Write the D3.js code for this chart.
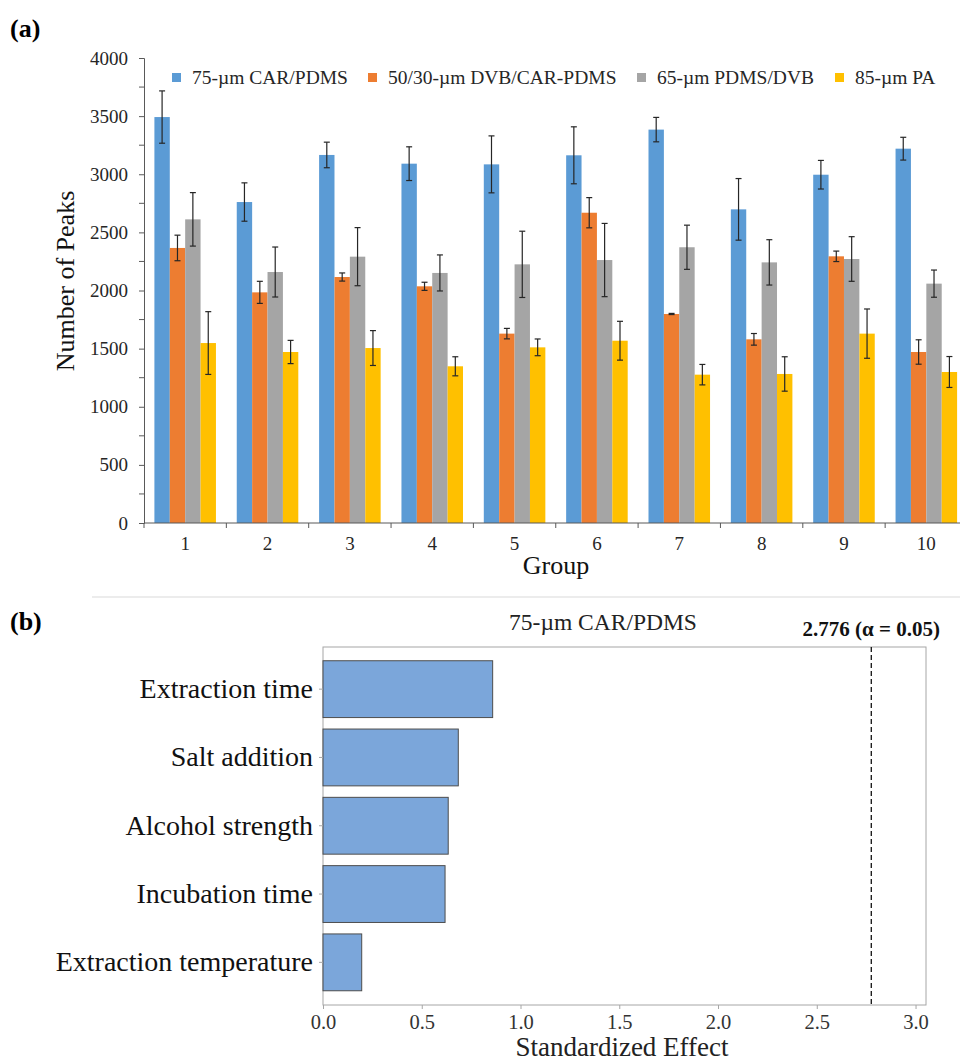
<!DOCTYPE html>
<html><head><meta charset="utf-8">
<script src="https://cdn.jsdelivr.net/npm/d3@7"></script>
<style>body{margin:0;background:#fff}svg{display:block}text{font-family:"Liberation Serif","Times New Roman",serif}</style>
</head><body>
<svg id="c" width="960" height="1064"></svg>
<script>
// ---- Panel (a) data ----
const groups = ["1","2","3","4","5","6","7","8","9","10"];
const seriesNames = ["75-µm CAR/PDMS","50/30-µm DVB/CAR-PDMS","65-µm PDMS/DVB","85-µm PA"];
const seriesColors = ["#5B9BD5","#ED7D31","#A5A5A5","#FFC000"];
const carPdms    = [3492,2761,3166,3091,3085,3163,3384,2698,2996,3220];
const carPdmsErr = [225,165,110,145,245,245,105,265,123,98];
const dvbCar     = [2366,1984,2116,2036,1629,2669,1798,1580,2294,1471];
const dvbCarErr  = [110,95,35,35,45,130,5,50,45,105];
const pdmsDvb    = [2612,2159,2291,2151,2225,2262,2372,2242,2271,2059];
const pdmsDvbErr = [230,215,250,155,285,315,190,195,192,117];
const pa         = [1548,1471,1505,1348,1511,1568,1276,1282,1629,1299];
const paErr      = [270,100,150,82,72,167,88,148,212,133];
const yTicksA = [0,500,1000,1500,2000,2500,3000,3500,4000];

// ---- Panel (b) data ----
const factors = ["Extraction time","Salt addition","Alcohol strength","Incubation time","Extraction temperature"];
const effects = [0.859,0.685,0.634,0.618,0.196];
const xTicksB = [0,0.5,1,1.5,2,2.5,3];
const critical = 2.776;

const svg = d3.select("#c");

// ================= Panel (a) =================
const values = [carPdms, dvbCar, pdmsDvb, pa];
const errs = [carPdmsErr, dvbCarErr, pdmsDvbErr, paErr];
const axA = "#595959";
const x0 = d3.scaleBand().domain(groups).range([144, 967.5]).paddingInner(0).paddingOuter(0);
const x1 = d3.scaleBand().domain(d3.range(4)).range([0, x0.bandwidth()]).paddingOuter(0.676).paddingInner(0);
const yA = d3.scaleLinear().domain([0,4000]).range([523,58]);

svg.append("text").attr("x",10).attr("y",37).attr("font-size",26).attr("font-weight","bold").text("(a)");

// minor ticks
const gA = svg.append("g");
gA.selectAll("line.minor").data(d3.range(250,4000,500)).join("line")
  .attr("x1",139).attr("x2",144).attr("y1",d=>yA(d)).attr("y2",d=>yA(d)).attr("stroke",axA).attr("stroke-width",1);

const yAxisA = svg.append("g").attr("transform","translate(144,0)")
  .call(d3.axisLeft(yA).tickValues(yTicksA).tickSize(5).tickPadding(11).tickFormat(d3.format("d")));
yAxisA.select(".domain").attr("stroke",axA);
yAxisA.selectAll(".tick line").attr("stroke",axA);
yAxisA.selectAll(".tick text").attr("font-size",19).attr("fill","#262626").attr("font-family","Liberation Serif");

// bars
groups.forEach((g,gi)=>{
  const gg = svg.append("g").attr("transform",`translate(${x0(g)},0)`);
  for(let s=0;s<4;s++){
    const v = values[s][gi];
    gg.append("rect").attr("x",x1(s)).attr("y",yA(v)).attr("width",x1.bandwidth()).attr("height",yA(0)-yA(v)).attr("fill",seriesColors[s]);
  }
  for(let s=0;s<4;s++){
    const v = values[s][gi], e = errs[s][gi];
    const cx = x1(s)+x1.bandwidth()/2;
    const ec = "#262626";
    gg.append("line").attr("x1",cx).attr("x2",cx).attr("y1",yA(v+e)).attr("y2",yA(v-e)).attr("stroke",ec).attr("stroke-width",1.2);
    [v+e,v-e].forEach(t=>gg.append("line").attr("x1",cx-3).attr("x2",cx+3).attr("y1",yA(t)).attr("y2",yA(t)).attr("stroke",ec).attr("stroke-width",1.2));
  }
});

// x axis (a)
const xAxisA = svg.append("g").attr("transform","translate(0,523)");
xAxisA.append("line").attr("x1",144).attr("x2",967.5).attr("stroke",axA);
xAxisA.selectAll("line.t").data(d3.range(0,11)).join("line").attr("class","t")
  .attr("x1",d=>144+d*x0.step()).attr("x2",d=>144+d*x0.step()).attr("y1",0).attr("y2",5).attr("stroke",axA);
xAxisA.selectAll("text.lab").data(groups).join("text").attr("class","lab")
  .attr("x",d=>x0(d)+x0.bandwidth()/2).attr("y",27).attr("text-anchor","middle").attr("font-size",19).attr("fill","#262626").text(d=>d);

svg.append("text").attr("x",556).attr("y",574).attr("text-anchor","middle").attr("font-size",26).attr("fill","#111").text("Group");
svg.append("text").attr("transform","translate(74,281) rotate(-90)").attr("text-anchor","middle").attr("font-size",26).attr("fill","#111").text("Number of Peaks");

// legend
const legX = [172,368,637,835];
seriesNames.forEach((n,i)=>{
  svg.append("rect").attr("x",legX[i]).attr("y",73).attr("width",9).attr("height",9).attr("fill",seriesColors[i]);
  svg.append("text").attr("x",legX[i]+20).attr("y",84).attr("font-size",19.5).attr("fill","#262626").text(n);
});

// separator
svg.append("line").attr("x1",92).attr("x2",960).attr("y1",597).attr("y2",597).attr("stroke","#e6e6e6").attr("stroke-width",1.5);

// ================= Panel (b) =================
svg.append("text").attr("x",10).attr("y",630).attr("font-size",26).attr("font-weight","bold").text("(b)");

const pLeft=323, pRight=926, pTop=647, pBottom=1005;
const xB = d3.scaleLinear().domain([0,3.053]).range([pLeft,pRight]);
const yB = d3.scaleBand().domain(factors).range([655,996.5]).paddingInner(0.168).paddingOuter(0.084);

svg.append("rect").attr("x",pLeft).attr("y",pTop).attr("width",pRight-pLeft).attr("height",pBottom-pTop).attr("fill","none").attr("stroke","#a6a6a6").attr("stroke-width",1);

svg.selectAll("rect.bar").data(factors).join("rect").attr("class","bar")
  .attr("x",xB(0)).attr("y",d=>yB(d)).attr("width",(d,i)=>xB(effects[i])-xB(0)).attr("height",yB.bandwidth())
  .attr("fill","#7BA6DA").attr("stroke","#4d4d4d").attr("stroke-width",1);

const xAxisB = svg.append("g").attr("transform",`translate(0,${pBottom})`)
  .call(d3.axisBottom(xB).tickValues(xTicksB).tickSize(4).tickPadding(5).tickFormat(d3.format(".1f")));
xAxisB.select(".domain").remove();
xAxisB.selectAll(".tick line").attr("stroke","#a6a6a6");
xAxisB.selectAll(".tick text").attr("font-size",20.5).attr("fill","#333").attr("font-family","Liberation Serif");

const yAxisB = svg.append("g").attr("transform",`translate(${pLeft},0)`)
  .call(d3.axisLeft(yB).tickSize(4).tickPadding(6));
yAxisB.select(".domain").remove();
yAxisB.selectAll(".tick line").attr("stroke","#a6a6a6");
yAxisB.selectAll(".tick text").attr("font-size",28).attr("fill","#111").attr("font-family","Liberation Serif");

svg.append("line").attr("x1",xB(critical)).attr("x2",xB(critical)).attr("y1",pTop).attr("y2",pBottom)
  .attr("stroke","#111").attr("stroke-width",1.3).attr("stroke-dasharray","5,3");

svg.append("text").attr("x",xB(critical)).attr("y",636).attr("text-anchor","middle").attr("font-size",21).attr("font-weight","bold").attr("fill","#111").text("2.776 (α = 0.05)");
svg.append("text").attr("x",603).attr("y",630).attr("text-anchor","middle").attr("font-size",23.5).attr("fill","#222").text("75-µm CAR/PDMS");
svg.append("text").attr("x",622).attr("y",1056).attr("text-anchor","middle").attr("font-size",27).attr("fill","#222").text("Standardized Effect");
</script>
</body></html>
